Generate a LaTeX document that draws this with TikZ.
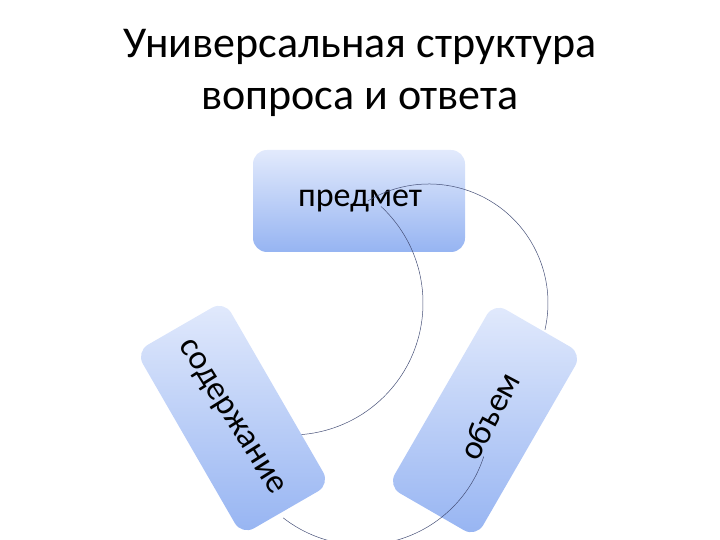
\documentclass[tikz,border=0pt]{standalone}
\usepackage{fontspec}
\setmainfont{Carlito}
\definecolor{boxtop}{RGB}{226,234,252}
\definecolor{boxbot}{RGB}{150,180,242}
\definecolor{ringc}{RGB}{70,80,120}
\begin{document}
\begin{tikzpicture}[x=1pt,y=1pt,
  boxst/.style={rounded corners=14pt,minimum width=212pt,minimum height=102pt,
    top color=boxtop,bottom color=boxbot,inner sep=0pt},
  lab/.style={font=\fontsize{34}{38}\selectfont},
  ring/.style={draw=ringc,line width=0.5pt}]
\useasboundingbox (0,0) rectangle (720,540);
\clip (0,0) rectangle (720,540);
\node (t1) at (360,493) {\fontsize{44}{48}\selectfont Универсальная структура};
\node (t2) at (360,438) {\fontsize{44}{48}\selectfont вопроса и ответа};
\node[boxst] (top) at (359,339) {};
\node[lab] (toptxt) at (360,339) {предмет};
\coordinate (c1) at (291,237);
\coordinate (c2) at (429,237);
\coordinate (c3) at (362,123);
\draw[ring] ([shift={(121:119)}]c2) arc[start angle=121,end angle=-13,radius=119];
\node[boxst,rotate=60,transform shape] (right) at (485,120) {};
\node[lab,rotate=62] (righttxt) at (489,124) {объем};
\draw[ring] ([shift={(-18:128)}]c3) arc[start angle=-18,end angle=-128,radius=128];
\draw[ring] ([shift={(47:132)}]c1) arc[start angle=47,end angle=-117,radius=132];
\node[boxst,rotate=-60,transform shape] (left) at (233,122) {};
\node[lab,rotate=-58] (lefttxt) at (230,122) {содержание};
\end{tikzpicture}
\end{document}
